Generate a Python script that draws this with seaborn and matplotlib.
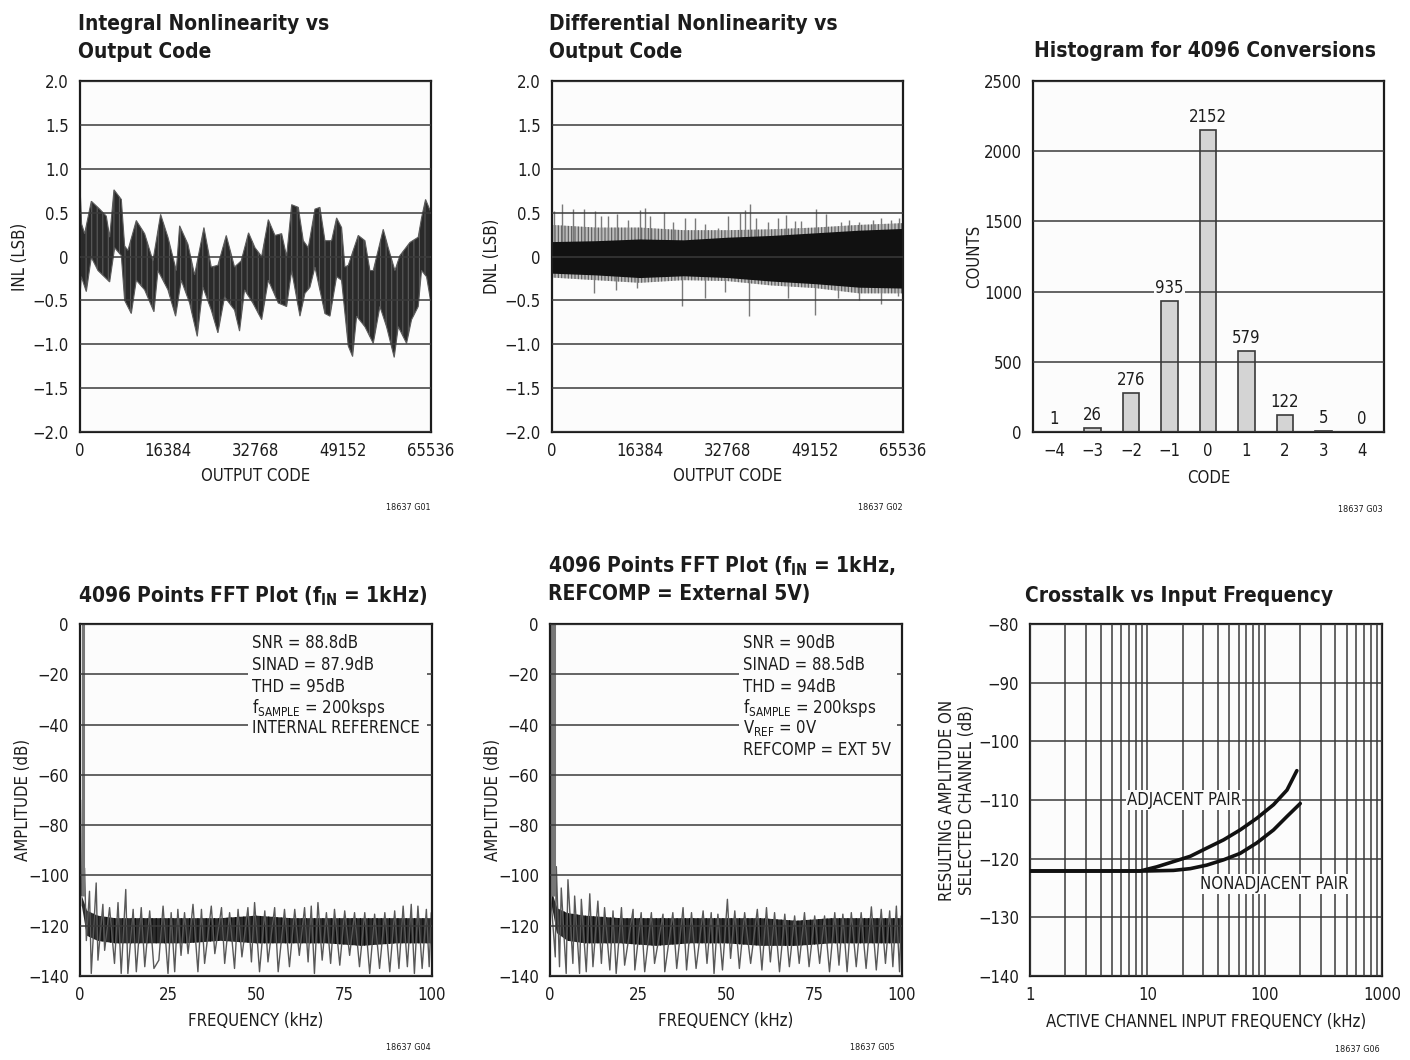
import numpy as np
import matplotlib
matplotlib.use("Agg")
import matplotlib.pyplot as plt
import seaborn as sns
from matplotlib.patches import Rectangle
from matplotlib.ticker import FixedLocator, LogLocator, NullFormatter

# ---------------- data ----------------
# INL band: upper and lower envelope (code, LSB)
inl_up_code = [0, 300, 870, 2115, 3670, 4910, 5540, 6345, 7715, 8335, 8955, 10510, 12070,
               13620, 15050, 16420, 17980, 18600, 20150, 21400, 23140, 24510, 25750, 27310,
               28860, 30100, 31470, 32673, 33920, 35160, 36400, 37650, 38580, 39520, 40760,
               41690, 42625, 43870, 44800, 45735, 46980, 47910, 48840, 49465, 50090, 51955,
               53200, 54130, 54755, 56620, 57550, 58800, 59730, 61600, 63150, 63770, 64520, 65536]
inl_up_val = [0.80, 0.37, 0.26, 0.63, 0.54, 0.46, 0.22, 0.76, 0.65, 0.12, 0.07, 0.41, 0.26,
              -0.05, 0.48, 0.22, -0.16, 0.35, 0.14, -0.21, 0.33, -0.12, -0.10, 0.24,
              -0.12, -0.05, 0.27, 0.10, 0.0, 0.42, 0.24, 0.26, 0.0, 0.59, 0.56,
              0.18, 0.10, 0.54, 0.56, 0.18, 0.18, 0.44, 0.33, -0.12, -0.10, 0.24,
              0.18, -0.16, -0.16, 0.31, 0.10, -0.16, 0.01, 0.16, 0.22, 0.44, 0.65, 0.50]
inl_lo_code = [0, 250, 1180, 2115, 3360, 5540, 6470, 7715, 8335, 9580, 10510, 12070, 13810,
               14555, 16420, 17850, 18910, 20465, 21895, 22950, 24510, 25750, 26995, 28860,
               29790, 30725, 32280, 33920, 35160, 37025, 38580, 39520, 41070, 42000, 42935,
               43870, 45735, 46670, 47910, 48840, 50090, 50900, 51645, 53200, 54755, 56000,
               57240, 58670, 59420, 60975, 61905, 63150, 63770, 64705, 65536]
inl_lo_val = [-0.45, -0.23, -0.40, -0.01, -0.16, -0.29, 0.10, 0.01, -0.50, -0.65, -0.27, -0.38, -0.63,
              -0.16, -0.38, -0.68, -0.27, -0.53, -0.91, -0.35, -0.61, -0.87, -0.46, -0.61,
              -0.85, -0.38, -0.53, -0.72, -0.27, -0.53, -0.57, -0.16, -0.68, -0.42, -0.35,
              -0.12, -0.65, -0.68, -0.23, -0.27, -1.02, -1.14, -0.68, -0.80, -0.99, -0.57,
              -0.80, -1.15, -0.80, -0.99, -0.72, -0.57, -0.16, -0.23, -0.53]

# DNL: dense core band, grey fringe and isolated spikes
dnl_code = [0, 8192, 16384, 24576, 32768, 40960, 49152, 57344, 65536]
dnl_core_up = [0.17, 0.18, 0.20, 0.19, 0.22, 0.24, 0.27, 0.30, 0.32]
dnl_core_lo = [-0.19, -0.21, -0.24, -0.22, -0.24, -0.28, -0.31, -0.35, -0.36]
dnl_fringe_up = [0.36, 0.33, 0.33, 0.30, 0.30, 0.31, 0.33, 0.36, 0.38]
dnl_fringe_lo = [-0.24, -0.27, -0.30, -0.27, -0.28, -0.33, -0.36, -0.42, -0.42]
dnl_spike_code = [373, 1866, 3919, 5971, 7962, 9206, 10450, 12191, 14182, 16359, 17292, 18225,
                  20899, 22579, 24756, 26622, 28488, 30976, 32842, 35019, 35952, 36885, 38129,
                  40306, 42172, 43727, 45282, 46526, 49325, 51191, 53990, 55545, 57411, 59899,
                  61454, 63320, 64875,
                  7775, 12005, 15923, 24320, 28488, 32220, 36698, 44038, 49138, 53368, 57411,
                  61454, 64564]
dnl_spike_val = [0.52, 0.60, 0.54, 0.54, 0.52, 0.46, 0.46, 0.48, 0.42, 0.53, 0.55, 0.46,
                 0.51, 0.39, 0.44, 0.44, 0.37, 0.33, 0.46, 0.50, 0.53, 0.60, 0.44,
                 0.39, 0.44, 0.47, 0.40, 0.40, 0.54, 0.48, 0.39, 0.42, 0.39, 0.42,
                 0.44, 0.42, 0.44,
                 -0.42, -0.38, -0.36, -0.56, -0.47, -0.40, -0.68, -0.47, -0.67, -0.47, -0.50,
                 -0.54, -0.45]

# histogram for 4096 conversions
hist_codes = [-4, -3, -2, -1, 0, 1, 2, 3, 4]
hist_counts = [1, 26, 276, 935, 2152, 579, 122, 5, 0]

# FFT 1 (internal reference): peaks / troughs of the noise trace, core band, fundamental
fft1_pk_f = [0.15, 1.3, 2.7, 4.6, 6.5, 8.4, 10.8, 13.0, 15.1, 17.4, 19.8, 23.6, 25.9, 27.8, 29.7,
             32.1, 34.5, 37.3, 40.2, 42.5, 44.9, 47.7, 49.6, 52.5, 55.3, 58.1, 61.0, 63.8, 65.7,
             67.6, 70.0, 72.3, 75.2, 78.0, 80.9, 83.7, 86.6, 89.4, 91.8, 94.1, 96.0, 98.4, 99.8]
fft1_pk_db = [-70, -97.1, -106.3, -103.0, -111.5, -112.8, -110.8, -105.6, -113.5, -112.8, -114.1,
              -112.2, -114.8, -113.5, -114.8, -111.5, -113.5, -112.2, -112.8, -114.8, -113.5,
              -112.8, -110.8, -114.1, -112.8, -113.5, -113.5, -112.8, -112.2, -110.8, -114.8,
              -113.5, -114.1, -114.8, -114.8, -115.4, -114.8, -114.1, -112.2, -111.5, -112.2,
              -113.5, -114.8]
fft1_tr_f = [0.4, 1.8, 3.2, 5.1, 7.0, 9.8, 11.7, 13.6, 16.0, 18.4, 21.0, 22.4, 25.0, 26.9, 28.7,
             30.7, 33.5, 35.4, 38.3, 41.1, 43.9, 46.0, 48.7, 51.0, 53.4, 56.3, 59.5, 62.3, 64.8,
             66.6, 68.8, 71.2, 73.8, 76.6, 79.4, 82.3, 85.1, 88.0, 90.6, 93.0, 95.0, 97.2, 99.2]
fft1_tr_db = [-108, -125.9, -139, -133.7, -129.8, -135, -139, -139, -138.3, -136.3, -137, -133.7,
              -139, -138.3, -131.8, -131.1, -138.3, -135, -131.1, -135, -137, -132.4, -134.4,
              -138.3, -134.4, -138.3, -136.3, -131.8, -134.4, -139, -133.7, -135, -135.7, -131.8,
              -136.3, -139, -137, -138.3, -137, -136.3, -139, -137, -136.3]
fft1_core_f = [0.5, 2, 5, 10, 20, 30, 40, 50, 60, 70, 80, 90, 100]
fft1_core_hi = [-108, -114, -116, -117, -117, -117, -117, -116, -117, -117, -117, -117, -117]
fft1_core_lo = [-112, -124, -126, -127, -127, -127, -126, -127, -127, -127, -128, -127, -127]
fft1_fund_f = [0.8]
fft1_fund_db = [0]

# FFT 2 (REFCOMP = external 5V)
fft2_pk_f = [0.2, 1.8, 3.2, 5.1, 7.0, 8.9, 11.3, 13.6, 15.5, 17.9, 20.3, 23.6, 25.9, 28.8, 32.1,
             34.9, 37.8, 40.2, 43.5, 45.8, 47.7, 50.4, 52.5, 55.3, 58.9, 61.5, 63.8, 66.7, 69.5,
             72.3, 75.2, 78.0, 80.9, 83.2, 85.6, 88.4, 91.3, 94.1, 96.5, 98.4, 99.8]
fft2_pk_db = [-108, -96.5, -105.0, -101.7, -108.2, -109.5, -107.3, -110.2, -112.8, -114.1, -112.8,
              -113.5, -114.8, -114.8, -115.4, -114.8, -112.8, -114.8, -114.1, -114.8, -115.4,
              -109.5, -114.1, -114.8, -113.5, -112.8, -114.8, -115.4, -116.1, -114.8, -116.1,
              -116.1, -114.8, -115.4, -114.8, -114.8, -112.5, -113.5, -114.1, -112.2, -116.1]
fft2_tr_f = [1.5, 2.7, 4.6, 6.5, 8.4, 10.3, 12.2, 14.6, 17.0, 18.8, 21.2, 24.1, 26.9, 29.7, 32.6,
             36.0, 38.8, 41.5, 44.6, 46.6, 49.0, 51.3, 53.8, 57.0, 60.2, 62.6, 65.2, 68.0, 70.8,
             73.6, 76.6, 79.4, 82.1, 84.4, 87.0, 89.8, 92.7, 95.3, 97.4, 99.3]
fft2_tr_db = [-132.4, -136.3, -139, -135, -139, -138.3, -136.3, -135, -137.6, -139, -135.7, -137.6,
              -138.3, -135, -138.3, -137, -137.6, -137, -135, -139, -137.6, -133, -137, -135,
              -137.6, -134.4, -138.3, -136.3, -135, -136.3, -135, -138.3, -135.7, -138.3, -136.3,
              -137, -137.6, -135, -136.3, -138.3]
fft2_core_f = [0.5, 2, 5, 10, 20, 30, 40, 50, 60, 70, 80, 90, 100]
fft2_core_hi = [-106, -113, -115, -116, -117, -117, -117, -117, -117, -118, -117, -117, -117]
fft2_core_lo = [-112, -123, -126, -127, -127, -128, -127, -127, -128, -128, -127, -127, -127]
fft2_fund_f = [0.4, 1.2]
fft2_fund_db = [0, 0]

# crosstalk vs input frequency
adj_f = [1, 5, 8.7, 12.0, 16.7, 23.2, 32.1, 44.6, 61.8, 85.9, 119, 155, 188]
adj_db = [-122.1, -122.1, -122.1, -121.4, -120.5, -119.6, -118.2, -116.8, -115.1, -113.1,
          -110.8, -108.3, -105.0]
nonadj_f = [1, 5, 9.9, 16.7, 23.2, 32.1, 44.6, 61.8, 85.9, 119, 155, 201]
nonadj_db = [-122.1, -122.1, -122.1, -122.0, -121.7, -121.1, -120.2, -119.1, -117.3, -115.1,
             -112.8, -110.6]

# tick labels
lsb_ticks = [-2, -1.5, -1, -0.5, 0, 0.5, 1, 1.5, 2]
lsb_labels = ["\u22122.0", "\u22121.5", "\u22121.0", "\u22120.5", "0", "0.5", "1.0", "1.5", "2.0"]
code_ticks = [0, 16384, 32768, 49152, 65536]
code_labels = ["0", "16384", "32768", "49152", "65536"]
count_ticks = [0, 500, 1000, 1500, 2000, 2500]
hist_labels = ["\u22124", "\u22123", "\u22122", "\u22121", "0", "1", "2", "3", "4"]
db_ticks = [0, -20, -40, -60, -80, -100, -120, -140]
khz_ticks = [0, 25, 50, 75, 100]
xt_yticks = [-80, -90, -100, -110, -120, -130, -140]
xt_xticks = [1, 10, 100, 1000]

fft1_notes = ["SNR = 88.8dB", "SINAD = 87.9dB", "THD = 95dB",
              "f$_{\\mathrm{SAMPLE}}$ = 200ksps", "INTERNAL REFERENCE"]
fft2_notes = ["SNR = 90dB", "SINAD = 88.5dB", "THD = 94dB",
              "f$_{\\mathrm{SAMPLE}}$ = 200ksps", "V$_{\\mathrm{REF}}$ = 0V", "REFCOMP = EXT 5V"]

# ---------------- styling ----------------
sns.set_theme(style="white")
plt.rcParams["font.family"] = ["DejaVu Sans"]
plt.rcParams["font.stretch"] = "condensed"
plt.rcParams["mathtext.fontset"] = "custom"
plt.rcParams["mathtext.rm"] = "DejaVu Sans:stretch=condensed"
plt.rcParams["mathtext.bf"] = "DejaVu Sans:weight=bold:stretch=condensed"
plt.rcParams["mathtext.it"] = "DejaVu Sans:style=italic:stretch=condensed"
plt.rcParams["hatch.linewidth"] = 0.8

INK = "#1c1c1c"
GRID = "#3a3a3a"
FACE = "#fcfcfc"
FS = 12
TFS = 15
W, H = 1410, 1060

fig = plt.figure(figsize=(W / 100, H / 100), dpi=100)


def box(l, t, r, b):
    return [l / W, 1 - b / H, (r - l) / W, (b - t) / H]


def style(ax, xlab, ylab, ylab_x, xlab_y):
    ax.set_facecolor(FACE)
    for s in ax.spines.values():
        s.set_color(INK)
        s.set_linewidth(1.6)
    ax.set_axisbelow(False)
    ax.tick_params(axis="both", labelsize=FS, colors=INK, length=0)
    ax.tick_params(axis="y", pad=8)
    ax.tick_params(axis="x", pad=7)
    ax.grid(True, axis="y", color=GRID, linewidth=1.1)
    ax.grid(False, axis="x")
    ax.set_xlabel(xlab, fontsize=FS, color=INK)
    ax.set_ylabel(ylab, fontsize=FS, color=INK)
    ax.yaxis.set_label_coords(ylab_x, 0.5)
    ax.xaxis.set_label_coords(0.5, xlab_y)


def fig_title(x, y, s):
    fig.text(x / W, 1 - y / H, s, fontsize=TFS, fontweight="bold", color=INK,
             ha="left", va="baseline")


def fig_id(x, y, s):
    fig.text(x / W, 1 - y / H, s, fontsize=6.5, color=INK, ha="right", va="center")


# ---- INL ----
ax1 = fig.add_axes(box(80, 81, 431, 432))
ax1.fill(inl_up_code + inl_lo_code[::-1], inl_up_val + inl_lo_val[::-1],
         facecolor="#2a2a2a", edgecolor="#5c5c5c", hatch="|||", linewidth=0.8, zorder=1)
ax1.set_xlim(0, 65536)
ax1.set_ylim(-2, 2)
ax1.set_yticks(lsb_ticks, lsb_labels)
ax1.set_xticks(code_ticks, code_labels)
style(ax1, "OUTPUT CODE", "INL (LSB)", -0.145, -0.1)
ax1.tick_params(axis="x", direction="in", length=10, width=1.2, color=INK)
fig_title(78, 30, "Integral Nonlinearity vs")
fig_title(78, 58, "Output Code")
fig_id(431, 508, "18637 G01")

# ---- DNL ----
ax2 = fig.add_axes(box(552, 81, 903, 432))
ax2.fill_between(dnl_code, dnl_fringe_lo, dnl_fringe_up, facecolor="#bdbdbd",
                 edgecolor="#5a5a5a", hatch="|||||", linewidth=0, zorder=1)
ax2.vlines(dnl_spike_code, 0, dnl_spike_val, color="#7a7a7a", linewidth=1.0, zorder=1)
ax2.fill_between(dnl_code, dnl_core_lo, dnl_core_up, color="#111111", linewidth=0, zorder=1.2)
ax2.set_xlim(0, 65536)
ax2.set_ylim(-2, 2)
ax2.set_yticks(lsb_ticks, lsb_labels)
ax2.set_xticks(code_ticks, code_labels)
style(ax2, "OUTPUT CODE", "DNL (LSB)", -0.145, -0.1)
ax2.tick_params(axis="x", direction="in", length=10, width=1.2, color=INK)
fig_title(549, 30, "Differential Nonlinearity vs")
fig_title(549, 58, "Output Code")
fig_id(903, 508, "18637 G02")

# ---- histogram ----
ax3 = fig.add_axes(box(1033, 81, 1384, 432))
sns.barplot(x=hist_codes, y=hist_counts, native_scale=True, width=0.43, color="#d4d4d4",
            saturation=1, edgecolor="#3a3a3a", linewidth=1.2, ax=ax3)
for c, n in zip(hist_codes, hist_counts):
    kw = {}
    if n == 935:
        kw["bbox"] = dict(facecolor=FACE, edgecolor="none", pad=1)
    ax3.annotate(str(n), (c, n), xytext=(0, 3), textcoords="offset points", ha="center",
                 va="bottom", fontsize=FS, color=INK, zorder=4, **kw)
ax3.set_xlim(-4.55, 4.58)
ax3.set_ylim(0, 2500)
ax3.set_yticks(count_ticks, [str(t) for t in count_ticks])
ax3.set_xticks(hist_codes, hist_labels)
style(ax3, "CODE", "COUNTS", -0.142, -0.106)
fig_title(1034, 57, "Histogram for 4096 Conversions")
fig_id(1383, 509, "18637 G03")


# ---- FFT plots ----
def fft_panel(ax, pk_f, pk_db, tr_f, tr_db, core_f, core_hi, core_lo, fund_f, fund_db,
              notes, note_x, rect_x0, rect_y1):
    ax.fill_between(core_f, core_lo, core_hi, facecolor="#2c2c2c", edgecolor="#0c0c0c",
                    hatch="||||", linewidth=0, zorder=1)
    zf = pk_f + tr_f
    zd = pk_db + tr_db
    order = np.argsort(zf, kind="stable")
    sns.lineplot(x=np.array(zf)[order], y=np.array(zd)[order], sort=False, estimator=None,
                 color="#585858", linewidth=1.0, ax=ax, zorder=1.5)
    ax.vlines(fund_f, -108, fund_db, color="#777777", linewidth=2.2, zorder=1.5)
    ax.set_xlim(0, 100)
    ax.set_ylim(-140, 0)
    ax.set_yticks(db_ticks, [str(t).replace("-", "\u2212") for t in db_ticks])
    ax.set_xticks(khz_ticks, [str(t) for t in khz_ticks])
    style(ax, "FREQUENCY (kHz)", "AMPLITUDE (dB)", -0.136, -0.102)
    ax.add_patch(Rectangle((rect_x0, rect_y1), 98.6 - rect_x0, -5 - rect_y1,
                           facecolor=FACE, edgecolor="none", zorder=2.6))
    ys = [-9.5, -18.3, -27.0, -35.4, -43.4, -52.1]
    for s, y in zip(notes, ys):
        ax.text(note_x, y, s, fontsize=FS, color=INK, ha="left", va="baseline", zorder=3)


ax4 = fig.add_axes(box(80, 624, 432, 976))
fft_panel(ax4, fft1_pk_f, fft1_pk_db, fft1_tr_f, fft1_tr_db, fft1_core_f, fft1_core_hi,
          fft1_core_lo, fft1_fund_f, fft1_fund_db, fft1_notes, 48.8, 47.6, -47)
fig_title(78, 602, "4096 Points FFT Plot (f$_{\\mathbf{IN}}$ = 1kHz)")
fig_id(431, 1048, "18637 G04")

ax5 = fig.add_axes(box(550, 624, 902, 976))
fft_panel(ax5, fft2_pk_f, fft2_pk_db, fft2_tr_f, fft2_tr_db, fft2_core_f, fft2_core_hi,
          fft2_core_lo, fft2_fund_f, fft2_fund_db, fft2_notes, 54.8, 53.7, -56)
fig_title(548, 572, "4096 Points FFT Plot (f$_{\\mathbf{IN}}$ = 1kHz,")
fig_title(548, 600, "REFCOMP = External 5V)")
fig_id(895, 1048, "18637 G05")

# ---- crosstalk ----
ax6 = fig.add_axes(box(1030, 624, 1382, 976))
ax6.set_xscale("log")
sns.lineplot(x=adj_f, y=adj_db, color="#111111", linewidth=2.6, ax=ax6, zorder=3)
sns.lineplot(x=nonadj_f, y=nonadj_db, color="#111111", linewidth=2.6, ax=ax6, zorder=3)
ax6.set_xlim(1, 1000)
ax6.set_ylim(-140, -80)
style(ax6, "ACTIVE CHANNEL INPUT FREQUENCY (kHz)", "RESULTING AMPLITUDE ON\nSELECTED CHANNEL (dB)",
      -0.152, -0.105)
ax6.xaxis.set_major_locator(FixedLocator(xt_xticks))
ax6.xaxis.set_minor_locator(LogLocator(base=10, subs=range(2, 10)))
ax6.xaxis.set_minor_formatter(NullFormatter())
ax6.set_xticks(xt_xticks, [str(t) for t in xt_xticks])
ax6.set_yticks(xt_yticks, [str(t).replace("-", "\u2212") for t in xt_yticks])
ax6.tick_params(axis="x", which="both", length=0)
ax6.grid(True, axis="x", which="both", color=GRID, linewidth=1.1)
ax6.text(6.7, -110, "ADJACENT PAIR", fontsize=FS, color=INK, ha="left", va="center", zorder=4,
         bbox=dict(facecolor=FACE, edgecolor="none", pad=1))
ax6.text(28.1, -124.3, "NONADJACENT PAIR", fontsize=FS, color=INK, ha="left", va="center",
         zorder=4, bbox=dict(facecolor=FACE, edgecolor="none", pad=1))
fig_title(1025, 602, "Crosstalk vs Input Frequency")
fig_id(1380, 1050, "18637 G06")

fig.savefig("out.png", dpi=100, facecolor="white")
